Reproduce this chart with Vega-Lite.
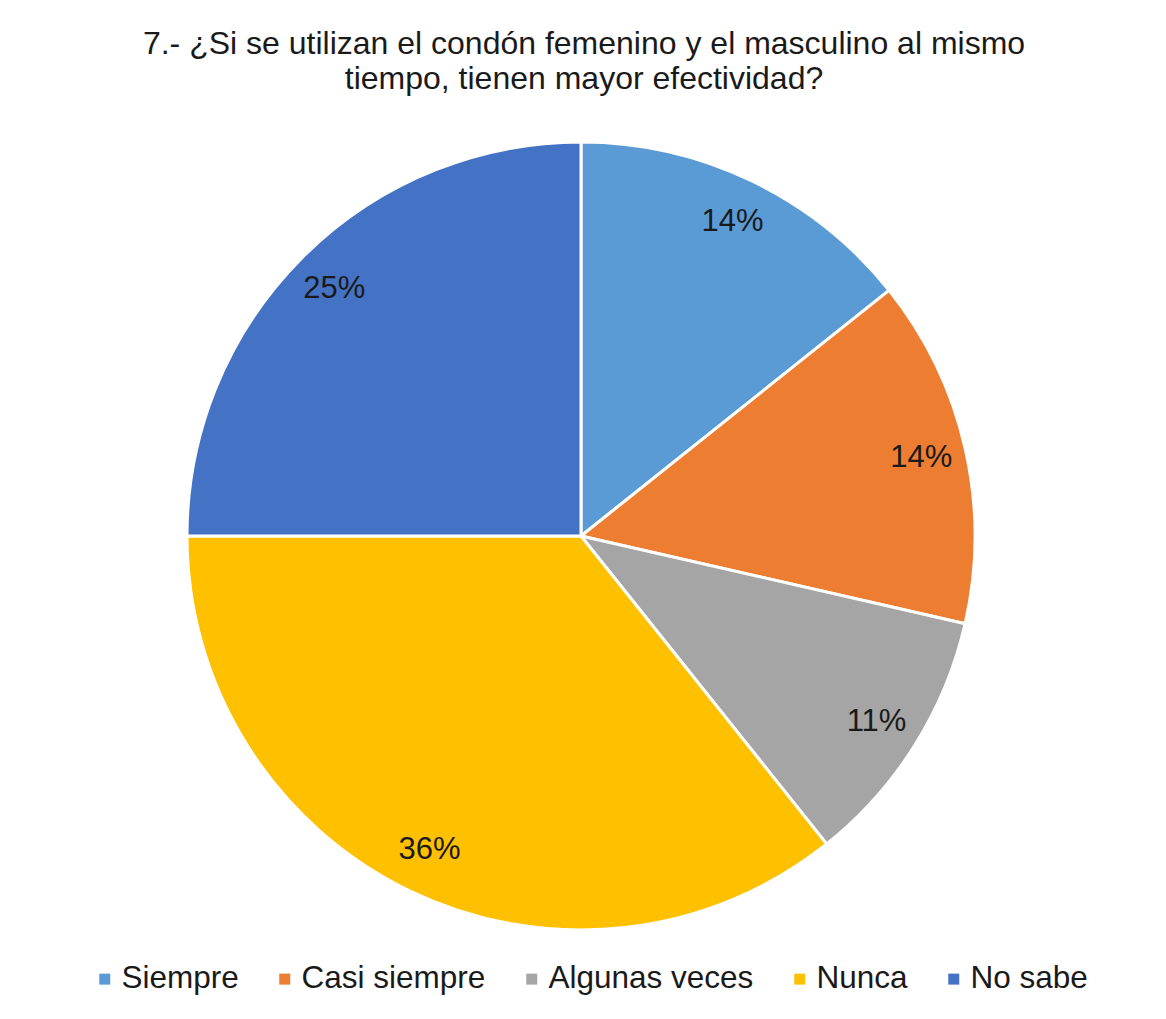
{
  "$schema": "https://vega.github.io/schema/vega-lite/v6.json",
  "autosize": {"type": "none"},
  "width": 788,
  "height": 788,
  "padding": {"left": 187, "top": 142, "right": 191, "bottom": 89},
  "background": "white",
  "title": {
    "text": ["7.- ¿Si se utilizan el condón femenino y el masculino al mismo", "tiempo, tienen mayor efectividad?"],
    "anchor": "middle",
    "font": "Liberation Sans",
    "fontSize": 32,
    "fontWeight": "normal",
    "color": "#1a1a1a",
    "lineHeight": 35,
    "offset": 40,
    "dx": 3
  },
  "data": {
    "values": [
      {"respuesta": "Siempre", "n": 4, "idx": 1, "pct": "14%"},
      {"respuesta": "Casi siempre", "n": 4, "idx": 2, "pct": "14%"},
      {"respuesta": "Algunas veces", "n": 3, "idx": 3, "pct": "11%"},
      {"respuesta": "Nunca", "n": 10, "idx": 4, "pct": "36%"},
      {"respuesta": "No sabe", "n": 7, "idx": 5, "pct": "25%"}
    ]
  },
  "encoding": {
    "theta": {"field": "n", "type": "quantitative", "stack": true},
    "order": {"field": "idx", "type": "quantitative"},
    "color": {
      "field": "respuesta",
      "type": "nominal",
      "scale": {
        "domain": ["Siempre", "Casi siempre", "Algunas veces", "Nunca", "No sabe"],
        "range": ["#5B9BD5", "#ED7D31", "#A5A5A5", "#FFC000", "#4472C4"]
      },
      "legend": {
        "title": null,
        "orient": "none",
        "direction": "horizontal",
        "legendX": -98,
        "legendY": 821,
        "padding": 0,
        "symbolType": "square",
        "symbolSize": 121,
        "symbolStrokeWidth": 0,
        "labelFont": "Liberation Sans",
        "labelFontSize": 31.5,
        "labelColor": "#1a1a1a",
        "labelOffset": 1,
        "labelLimit": 400,
        "columnPadding": 30
      }
    }
  },
  "layer": [
    {"mark": {"type": "arc", "stroke": "white", "strokeWidth": 3}},
    {
      "mark": {"type": "text", "radius": 349, "font": "Liberation Sans", "fontSize": 31, "color": "#1a1a1a", "align": "center", "baseline": "middle"},
      "encoding": {"text": {"field": "pct", "type": "nominal"}, "color": {"value": "#1a1a1a"}}
    }
  ]
}
